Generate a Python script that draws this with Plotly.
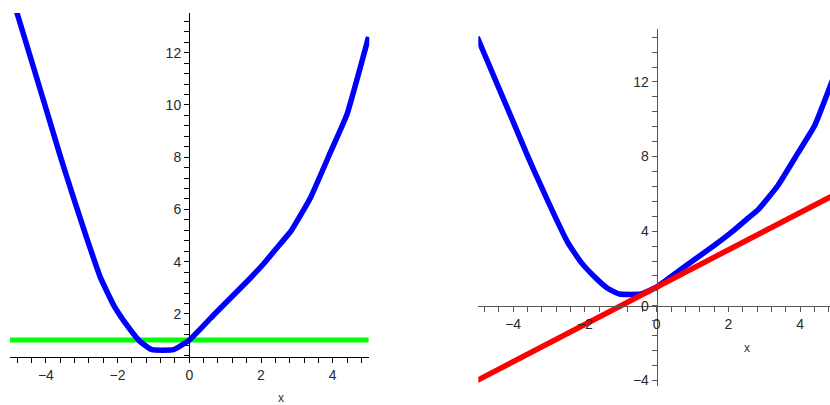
import plotly.graph_objects as go

W, H = 830, 405

# curve (same curve in both panels)
curve_x = [-5, -4.8, -4.05, -3.6, -3.23, -2.86, -2.48, -2.11, -1.74, -1.37, -1.04,
           -0.44, 0, 0.68, 1.61, 2.08, 2.5, 2.85, 3.38, 3.94, 4.4, 5]
curve_y = [14.4, 13.5, 10.1, 8.05, 6.45, 4.9, 3.4, 2.34, 1.57, 0.94, 0.63,
           0.63, 1.0, 1.96, 3.24, 3.93, 4.62, 5.2, 6.45, 8.2, 9.65, 12.6]

# horizontal line in the left panel
level_x = [-5, 5]
level_y = [1, 1]

# tangent line in the right panel
tangent_x = [-5, 5]
tangent_y = [-4, 6]

font = dict(family="Liberation Sans, Arial, sans-serif", size=14)


def axis_style(color, dtick, minor_dtick):
    return dict(
        showline=True,
        linecolor=color,
        linewidth=1,
        ticks="outside",
        ticklen=5,
        tickcolor=color,
        tick0=0,
        dtick=dtick,
        minor=dict(ticks="outside", ticklen=5, tickcolor=color, dtick=minor_dtick, tick0=0),
        showgrid=False,
        zeroline=False,
        tickfont=dict(font, color="#2a2a2a"),
        fixedrange=True,
    )


curve_line = dict(color="#0000ff", width=5.5, shape="spline", smoothing=0.35)

fig = go.Figure()

# left panel
fig.add_trace(go.Scatter(x=level_x, y=level_y, mode="lines",
                         line=dict(color="#00ff00", width=5), xaxis="x", yaxis="y"))
fig.add_trace(go.Scatter(x=curve_x, y=curve_y, mode="lines",
                         line=curve_line, xaxis="x", yaxis="y"))

# right panel
fig.add_trace(go.Scatter(x=curve_x, y=curve_y, mode="lines",
                         line=curve_line, xaxis="x2", yaxis="y2"))
fig.add_trace(go.Scatter(x=tangent_x, y=tangent_y, mode="lines",
                         line=dict(color="#ff0000", width=5.5), xaxis="x2", yaxis="y2"))

fig.update_layout(
    width=W,
    height=H,
    margin=dict(l=0, r=0, t=0, b=0),
    paper_bgcolor="white",
    plot_bgcolor="white",
    showlegend=False,
    font=font,
    xaxis=dict(axis_style("#000000", 2, 0.4),
               domain=[10 / W, 369.3 / W], range=[-5, 5.02], anchor="y"),
    yaxis=dict(axis_style("#000000", 2, 0.4),
               domain=[46 / H, 392 / H], range=[0.343, 13.52],
               anchor="free", position=189 / W),
    xaxis2=dict(axis_style("#555555", 2, 0.4),
                domain=[478.3 / W, 1.0], range=[-4.97, 4.83],
                anchor="free", position=(H - 307.3) / H),
    yaxis2=dict(axis_style("#555555", 4, 0.8),
                domain=[16.7 / H, 375.7 / H], range=[-4.32, 14.83],
                anchor="free", position=656.7 / W),
    annotations=[
        dict(text="x", x=2.55, xref="x", y=(H - 400) / H, yref="paper",
             showarrow=False, yanchor="middle", font=dict(size=12, color="#333333")),
        dict(text="x", x=2.53, xref="x2", y=(H - 350) / H, yref="paper",
             showarrow=False, yanchor="middle", font=dict(size=12, color="#333333")),
    ],
)

# page body margin would shift the figure by 8px
fig.write_html(
    "out.html",
    config={"displayModeBar": False},
    post_script="document.body.style.margin = '0';",
)
